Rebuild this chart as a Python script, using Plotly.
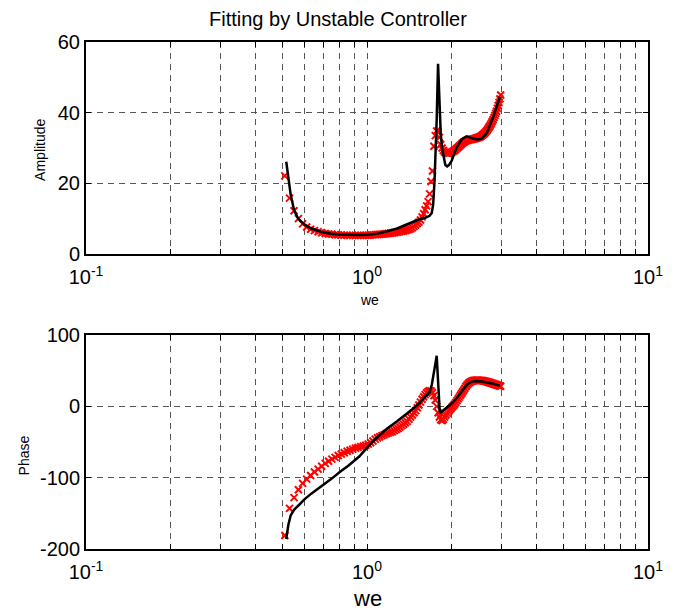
import plotly.graph_objects as go

# Measured response (red crosses): frequency, amplitude, phase
meas_w = [
    0.51, 0.53, 0.55, 0.57, 0.59, 0.61, 0.63, 0.65, 0.67, 0.69,
    0.71, 0.73, 0.75, 0.77, 0.79, 0.81, 0.83, 0.85, 0.87, 0.89,
    0.91, 0.93, 0.95, 0.97, 0.99, 1.01, 1.03, 1.05, 1.07, 1.09,
    1.11, 1.13, 1.15, 1.17, 1.19, 1.21, 1.23, 1.25, 1.27, 1.29,
    1.31, 1.33, 1.35, 1.37, 1.39, 1.41, 1.43, 1.45, 1.47, 1.49,
    1.51, 1.53, 1.55, 1.57, 1.59, 1.61, 1.63, 1.65, 1.67, 1.69,
    1.71, 1.73, 1.75, 1.77, 1.79, 1.81, 1.83, 1.85, 1.87, 1.89,
    1.91, 1.93, 1.95, 1.97, 1.99, 2.01, 2.03, 2.05, 2.07, 2.09,
    2.11, 2.13, 2.15, 2.17, 2.19, 2.21, 2.23, 2.25, 2.27, 2.29,
    2.31, 2.33, 2.35, 2.37, 2.39, 2.41, 2.43, 2.45, 2.47, 2.49,
    2.51, 2.53, 2.55, 2.57, 2.59, 2.61, 2.63, 2.65, 2.67, 2.69,
    2.71, 2.73, 2.75, 2.77, 2.79, 2.81, 2.83, 2.85, 2.87, 2.89,
    2.91, 2.93, 2.95, 2.97, 2.99,
]
meas_amp = [
    22.1, 15.8, 12.2, 10.0, 8.5, 7.6, 7.0, 6.6, 6.3, 6.0,
    5.8, 5.65, 5.55, 5.45, 5.4, 5.35, 5.3, 5.3, 5.25, 5.25,
    5.25, 5.25, 5.25, 5.25, 5.3, 5.3, 5.35, 5.4, 5.45, 5.5,
    5.55, 5.6, 5.65, 5.7, 5.8, 5.85, 5.9, 6.0, 6.1, 6.2,
    6.3, 6.4, 6.5, 6.6, 6.75, 6.9, 7.1, 7.4, 7.8, 8.2,
    8.6, 9.0, 9.6, 10.5, 11.4, 12.5, 13.6, 14.8, 17.0, 20.5,
    23.5, 30.5, 33.5, 34.8, 34.5, 33.0, 31.0, 30.0, 29.3, 28.8,
    28.6, 28.5, 28.5, 28.6, 28.7, 28.9, 29.1, 29.3, 29.6, 29.9,
    30.2, 30.5, 30.8, 31.1, 31.4, 31.6, 31.8, 32.0, 32.1, 32.2,
    32.3, 32.4, 32.4, 32.5, 32.5, 32.6, 32.7, 32.8, 32.9, 33.0,
    33.1, 33.2, 33.4, 33.6, 33.8, 34.0, 34.3, 34.6, 34.9, 35.3,
    35.7, 36.1, 36.5, 37.0, 37.5, 38.0, 38.6, 39.2, 39.8, 40.4,
    41.2, 42.0, 42.9, 43.9, 45.0,
]
meas_phase = [
    -181, -143, -128, -117, -108, -102, -97, -92, -88, -84,
    -80, -77, -74, -71.5, -69, -67, -65, -63, -61.5, -60,
    -58.5, -57.5, -56.5, -55.5, -54.5, -53, -51, -48.5, -46, -44,
    -42.5, -41, -40, -38.5, -37.5, -36.5, -35.5, -34, -32.5, -31,
    -29, -27, -25, -23, -21, -18, -15, -12, -9, -6,
    -2, 2, 6, 10, 13.5, 16.5, 19, 21, 22, 21.5,
    19, 15, 9, 0, -9, -15, -19, -20, -18, -15,
    -12, -9.5, -7, -5, -3, -1, 1, 3, 5.5, 8,
    10.5, 13, 15.5, 18, 20.5, 23, 25.5, 28, 30, 31.5,
    33, 34, 35, 35.5, 36, 36.3, 36.5, 36.6, 36.6, 36.6,
    36.5, 36.4, 36.3, 36.1, 35.9, 35.6, 35.3, 35, 34.6, 34.2,
    33.8, 33.4, 33, 32.6, 32.2, 31.8, 31.4, 31, 30.6, 30.2,
    29.8, 29.4, 29, 28.6, 28.2,
]

# Fitted unstable controller (black line)
fit_w = [
    0.516, 0.525, 0.535, 0.55, 0.57, 0.60, 0.635, 0.685, 0.745, 0.80,
    0.86, 0.94, 1.01, 1.09, 1.18, 1.28, 1.39, 1.45, 1.54, 1.62,
    1.67, 1.70, 1.72, 1.74, 1.755, 1.77, 1.79, 1.80, 1.815, 1.83,
    1.85, 1.87, 1.90, 1.93, 1.96, 2.0, 2.08, 2.17, 2.26, 2.36,
    2.46, 2.56, 2.67, 2.82, 2.97,
]
fit_amp = [
    26.1, 21.5, 16.8, 12.4, 9.9, 8.3, 7.2, 6.3, 5.7, 5.5,
    5.4, 5.35, 5.4, 5.75, 6.4, 7.2, 8.4, 9.0, 9.8, 10.3,
    10.8, 11.6, 14.0, 21.0, 28.0, 38.0, 53.8, 47.0, 40.0, 34.0,
    30.0, 27.5, 25.2, 24.8, 25.2, 26.3, 30.0, 32.4, 33.3, 32.8,
    32.4, 32.6, 34.3, 39.0, 44.5,
]
fit_phase = [
    -186, -166, -153, -145, -139, -130, -122, -113, -102, -92,
    -83, -70, -56, -43, -31, -21, -10, -4, 5, 14,
    20, 30, 40, 52, 62, 71, 30, 8, -7, -8.5,
    -7, -5, -3, -1, 1, 4, 11, 20, 30, 35,
    35.5, 34.8, 33.5, 31.6, 28.8,
]

# Log-axis ticks: every integer multiple within each decade, labels at decades only
x_tickvals = [0.1, 0.2, 0.3, 0.4, 0.5, 0.6, 0.7, 0.8, 0.9,
              1, 2, 3, 4, 5, 6, 7, 8, 9, 10]
x_ticktext = ["10<sup>-1</sup>", "", "", "", "", "", "", "", "",
              "10<sup>0</sup>", "", "", "", "", "", "", "", "",
              "10<sup>1</sup>"]
amp_ticks = [0, 20, 40, 60]
amp_labels = ["0", "20", "40", "60"]
phase_ticks = [-200, -100, 0, 100]
phase_labels = ["-200", "-100", "0", "100"]

FONT = "Liberation Sans, Arial, sans-serif"
GRID = "#555555"
CROSS = dict(symbol="x-thin", size=7, line=dict(width=2, color="#ff0000"))

fig = go.Figure()

fig.add_trace(go.Scatter(
    x=meas_w, y=meas_amp, mode="markers", xaxis="x", yaxis="y",
    marker=CROSS, showlegend=False))
fig.add_trace(go.Scatter(
    x=fit_w, y=fit_amp, mode="lines", xaxis="x", yaxis="y",
    line=dict(color="black", width=2.5), showlegend=False))
fig.add_trace(go.Scatter(
    x=meas_w, y=meas_phase, mode="markers", xaxis="x2", yaxis="y2",
    marker=CROSS, showlegend=False))
fig.add_trace(go.Scatter(
    x=fit_w, y=fit_phase, mode="lines", xaxis="x2", yaxis="y2",
    line=dict(color="black", width=2.5), showlegend=False))

xcommon = dict(
    type="log", range=[-1, 1], tickmode="array",
    tickvals=x_tickvals, ticktext=x_ticktext,
    ticks="inside", ticklen=5, tickcolor="black", tickwidth=1,
    ticklabelstandoff=4,
    showline=True, linecolor="black", linewidth=2, mirror="ticks",
    showgrid=True, gridcolor=GRID, gridwidth=1, griddash="6px,5px",
    zeroline=False, tickfont=dict(family=FONT, size=20, color="black"),
)
ycommon = dict(
    tickmode="array",
    ticks="inside", ticklen=5, tickcolor="black", tickwidth=1,
    showline=True, linecolor="black", linewidth=2, mirror="ticks",
    showgrid=True, gridcolor=GRID, gridwidth=1, griddash="6px,5px",
    zeroline=False, tickfont=dict(family=FONT, size=20, color="black"),
)

fig.update_layout(
    width=676, height=612,
    margin=dict(l=86, r=28, t=42, b=63),
    paper_bgcolor="white", plot_bgcolor="white",
    font=dict(family=FONT, color="black"),
    xaxis=dict(domain=[0, 1], anchor="y", **xcommon),
    yaxis=dict(domain=[0.582, 1], anchor="x", range=[0, 60],
               tickvals=amp_ticks, ticktext=amp_labels, **ycommon),
    xaxis2=dict(domain=[0, 1], anchor="y2", **xcommon),
    yaxis2=dict(domain=[0, 0.422], anchor="x2", range=[-200, 100],
                tickvals=phase_ticks, ticktext=phase_labels, **ycommon),
    annotations=[
        dict(text="Fitting by Unstable Controller", xref="paper", yref="paper",
             x=0.448, y=1.045, xanchor="center", yanchor="middle",
             showarrow=False, font=dict(family=FONT, size=20)),
        dict(text="we", xref="paper", yref="paper",
             x=0.505, y=0.491, xanchor="center", yanchor="middle",
             showarrow=False, font=dict(family=FONT, size=14)),
        dict(text="we", xref="paper", yref="paper",
             x=0.5, y=-0.097, xanchor="center", yanchor="middle",
             showarrow=False, font=dict(family=FONT, size=22)),
        dict(text="Amplitude", xref="paper", yref="paper",
             x=-0.082, y=0.787, xanchor="center", yanchor="middle",
             textangle=-90, showarrow=False, font=dict(family=FONT, size=14)),
        dict(text="Phase", xref="paper", yref="paper",
             x=-0.110, y=0.185, xanchor="center", yanchor="middle",
             textangle=-90, showarrow=False, font=dict(family=FONT, size=14)),
    ],
)

fig.write_html("out.html")
